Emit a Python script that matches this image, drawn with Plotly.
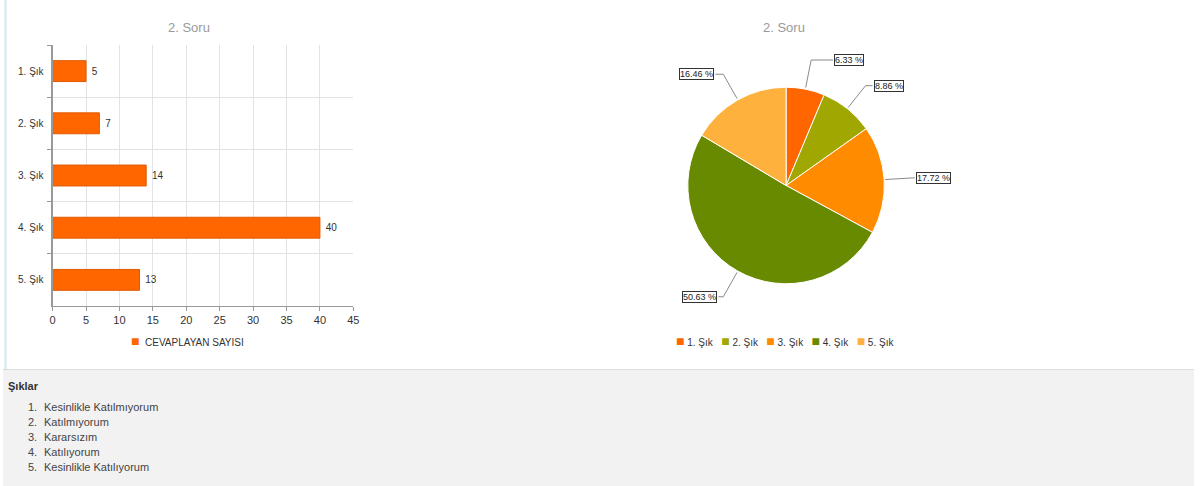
import math
import plotly.graph_objects as go

# ---------------- data ----------------
categories = ["1. Şık", "2. Şık", "3. Şık", "4. Şık", "5. Şık"]
counts = [5, 7, 14, 40, 13]
bar_series_name = "CEVAPLAYAN SAYISI"
chart_title = "2. Soru"
x_ticks = [0, 5, 10, 15, 20, 25, 30, 35, 40, 45]
options_heading = "Şıklar"
options_text = ["Kesinlikle Katılmıyorum", "Katılmıyorum", "Kararsızım",
                "Katılıyorum", "Kesinlikle Katılıyorum"]

# ---------------- style ----------------
W, H = 1200, 486
FONT = "Liberation Sans, Arial, sans-serif"
bar_color = "#FF6600"
pie_colors = ["#FF6600", "#A0A700", "#FF8C00", "#688A00", "#FFB13D"]
LEADER_TAIL = [22, 7, 2, 5, 8]   # horizontal tail of leader lines (px)
NB = "\u00a0"


def px(x):
    return x / W


def py(y):
    return 1 - y / H


fig = go.Figure()

fig.add_trace(go.Bar(
    x=counts, y=categories, orientation="h",
    name=bar_series_name,
    marker=dict(color=bar_color, line=dict(color="#E05A00", width=1)),
    text=[NB + str(v) for v in counts], textposition="outside",
    textfont=dict(size=10, color="#333", family=FONT),
    cliponaxis=False, showlegend=False,
    xaxis="x", yaxis="y",
))

# pie geometry (px)
cx, cy, R = 789, 185.5, 99
fig.add_trace(go.Pie(
    values=counts, labels=categories, sort=False, direction="clockwise",
    rotation=0, textinfo="none", hoverinfo="label+percent",
    marker=dict(colors=pie_colors, line=dict(color="#ffffff", width=1)),
    domain=dict(x=[px(cx - R), px(cx + R)], y=[py(cy + R), py(cy - R)]),
    showlegend=False,
))

shapes = []
annotations = []

# bottom grey panel + borders
shapes.append(dict(type="rect", xref="paper", yref="paper", x0=0, x1=1,
                   y0=0, y1=py(370), fillcolor="#f2f2f2", line=dict(width=0),
                   layer="below"))
shapes.append(dict(type="line", xref="paper", yref="paper", x0=0, x1=1,
                   y0=py(369.5), y1=py(369.5), line=dict(color="#d8dde0", width=1)))
shapes.append(dict(type="line", xref="paper", yref="paper", x0=px(2.5), x1=px(2.5),
                   y0=py(0), y1=py(369), line=dict(color="#d3e7f3", width=2)))

# pie leader lines + labels computed from data
total = sum(counts)
cum = 0
for i, v in enumerate(counts):
    frac = v / total
    mid = (cum + frac / 2) * 2 * math.pi
    cum += frac
    s, c = math.sin(mid), math.cos(mid)
    x0, y0 = cx + (R + 1) * s, cy - (R + 1) * c
    x1, y1 = cx + (R + 29) * s, cy - (R + 29) * c
    side = 1 if s >= 0 else -1
    x2 = x1 + side * LEADER_TAIL[i]
    shapes.append(dict(
        type="path", xref="paper", yref="paper",
        path=f"M {px(x0)},{py(y0)} L {px(x1)},{py(y1)} L {px(x2)},{py(y1)}",
        line=dict(color="#8a8a8a", width=1),
    ))
    annotations.append(dict(
        xref="paper", yref="paper", x=px(x2 + side * 1), y=py(y1),
        xanchor="left" if side > 0 else "right", yanchor="middle",
        text=f"{frac * 100:.2f} %", showarrow=False,
        font=dict(size=9, color="#222", family=FONT),
        bgcolor="#ffffff", bordercolor="#333", borderwidth=1, borderpad=0,
    ))

# titles
for tx in (187, 787):
    annotations.append(dict(xref="paper", yref="paper", x=px(tx), y=py(28),
                            xanchor="center", yanchor="middle", text=chart_title,
                            showarrow=False,
                            font=dict(size=13, color="#9a9a9a", family=FONT)))

# legends (text-based, compact like the original)
sq = lambda col: f'<span style="color:{col};font-size:14px">■</span>'
annotations.append(dict(xref="paper", yref="paper", x=px(186), y=py(341),
                        xanchor="center", yanchor="middle",
                        text=f"{sq(bar_color)}{NB}{NB}{bar_series_name}",
                        showarrow=False,
                        font=dict(size=10, color="#333", family=FONT)))
pie_leg = (NB * 3).join(f"{sq(col)}{NB}{lab}" for col, lab in zip(pie_colors, categories))
annotations.append(dict(xref="paper", yref="paper", x=px(788), y=py(341),
                        xanchor="center", yanchor="middle", text=pie_leg,
                        showarrow=False,
                        font=dict(size=10, color="#333", family=FONT)))

# options list
annotations.append(dict(xref="paper", yref="paper", x=px(3), y=py(386),
                        xanchor="left", yanchor="middle",
                        text=f"<b>{options_heading}</b>", showarrow=False,
                        font=dict(size=11, color="#333", family=FONT)))
for i, t in enumerate(options_text):
    yy = 407 + i * 15
    annotations.append(dict(xref="paper", yref="paper", x=px(36), y=py(yy),
                            xanchor="right", yanchor="middle", text=f"{i + 1}.",
                            showarrow=False,
                            font=dict(size=11, color="#444", family=FONT)))
    annotations.append(dict(xref="paper", yref="paper", x=px(39), y=py(yy),
                            xanchor="left", yanchor="middle", text=t,
                            showarrow=False,
                            font=dict(size=11, color="#444", family=FONT)))

fig.update_layout(
    width=W, height=H, margin=dict(l=0, r=0, t=0, b=0),
    paper_bgcolor="#ffffff", plot_bgcolor="#ffffff",
    font=dict(family=FONT, size=11, color="#333"),
    bargap=0.6, showlegend=False,
    xaxis=dict(domain=[px(50), px(353)], range=[0, 45], tickvals=x_ticks,
               showgrid=True, gridcolor="#e3e3e3", gridwidth=1,
               showline=True, linecolor="#999", linewidth=1,
               ticks="outside", ticklen=4, tickcolor="#999",
               zeroline=False, fixedrange=True,
               tickfont=dict(size=11, color="#333", family=FONT),
               anchor="y"),
    yaxis=dict(domain=[py(306), py(45)], type="category",
               categoryorder="array", categoryarray=categories,
               autorange="reversed", tickson="boundaries",
               showgrid=True, gridcolor="#e3e3e3", gridwidth=1,
               showline=True, linecolor="#999", linewidth=2,
               ticks="outside", ticklen=4, tickcolor="#999",
               ticklabelstandoff=5,
               tickfont=dict(size=10, color="#333", family=FONT),
               anchor="x", fixedrange=True),
    shapes=shapes, annotations=annotations,
)

fig.write_html("out.html")
